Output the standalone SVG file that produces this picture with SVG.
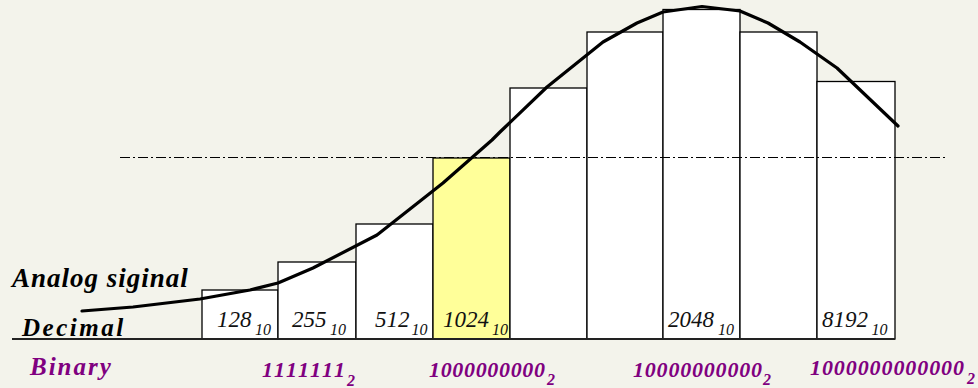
<svg xmlns="http://www.w3.org/2000/svg" width="978" height="388" viewBox="0 0 978 388">
<style>
.bar{fill:#ffffff;stroke:#000;stroke-width:1.3}
.hl{fill:#ffff99}
.dec{font-family:"Liberation Serif",serif;font-style:italic;font-size:23px;fill:#111}
.sub{font-family:"Liberation Serif",serif;font-style:italic;font-size:16px;fill:#111}
.bin{font-family:"Liberation Serif",serif;font-style:italic;font-weight:bold;font-size:22px;fill:#800080}
.bsub{font-family:"Liberation Serif",serif;font-style:italic;font-weight:bold;font-size:16px;fill:#800080}
.lbl{font-family:"Liberation Serif",serif;font-style:italic;font-weight:bold}
</style>
<rect width="978" height="388" fill="#f3f3eb"/>
<g id="bars">
<rect id="bar1" class="bar" x="202" y="290" width="76" height="49"/>
<rect id="bar2" class="bar" x="278" y="262" width="78" height="77"/>
<rect id="bar3" class="bar" x="356" y="224" width="77" height="115"/>
<rect id="bar4" class="bar hl" x="433" y="158" width="77" height="181"/>
<rect id="bar5" class="bar" x="510" y="88" width="77" height="251"/>
<rect id="bar6" class="bar" x="587" y="32" width="76" height="307"/>
<rect id="bar7" class="bar" x="663" y="9.5" width="77" height="329.5"/>
<rect id="bar8" class="bar" x="740" y="32" width="77" height="307"/>
<rect id="bar9" class="bar" x="817" y="81.5" width="78" height="257.5"/>
</g>
<g id="connectors">
<line id="threshold" x1="120" y1="157.5" x2="947" y2="157.5" stroke="#000" stroke-width="1" stroke-dasharray="10 3 2 3"/>
<line id="axis" x1="12" y1="339" x2="895" y2="339" stroke="#222" stroke-width="2"/>
<polyline id="signal" fill="none" stroke="#000" stroke-width="3.2" stroke-linejoin="round" stroke-linecap="round" points="82,311 133,307 200,299 250,290 278,283 313,268 377,235 443,183 492,140 500,132 547,87 603,42 637,23 663,12 702,6.5 740,11 768,23 800,42 837,68 898,126"/>
</g>
<g id="labels">
<text class="lbl" x="12" y="286.5" font-size="27" letter-spacing="1" fill="#000">Analog siginal</text>
<text class="lbl" x="22" y="336" font-size="25" letter-spacing="2.5" fill="#000">Decimal</text>
<text class="lbl" x="30" y="375" font-size="25" letter-spacing="2" fill="#800080">Binary</text>
</g>
<g id="decimal-values">
<text class="dec" x="217" y="326.5">128</text><text class="sub" x="255" y="334.5">10</text>
<text class="dec" x="292" y="326.5">255</text><text class="sub" x="330" y="334.5">10</text>
<text class="dec" x="375" y="326.5">512</text><text class="sub" x="411.5" y="334.5">10</text>
<text class="dec" x="443" y="326.5">1024</text><text class="sub" x="492" y="334.5">10</text>
<text class="dec" x="668" y="326.5">2048</text><text class="sub" x="718" y="334.5">10</text>
<text class="dec" x="822" y="326.5">8192</text><text class="sub" x="871.5" y="334.5">10</text>
</g>
<g id="binary-values">
<text class="bin" x="262" y="377" textLength="83" lengthAdjust="spacing">1111111</text><text class="bsub" x="347" y="386">2</text>
<text class="bin" x="429" y="377" textLength="116" lengthAdjust="spacing">1000000000</text><text class="bsub" x="547" y="385">2</text>
<text class="bin" x="633" y="377" textLength="129" lengthAdjust="spacing">10000000000</text><text class="bsub" x="763" y="385">2</text>
<text class="bin" x="810" y="375" textLength="154" lengthAdjust="spacing">1000000000000</text><text class="bsub" x="967" y="384">2</text>
</g>
</svg>
